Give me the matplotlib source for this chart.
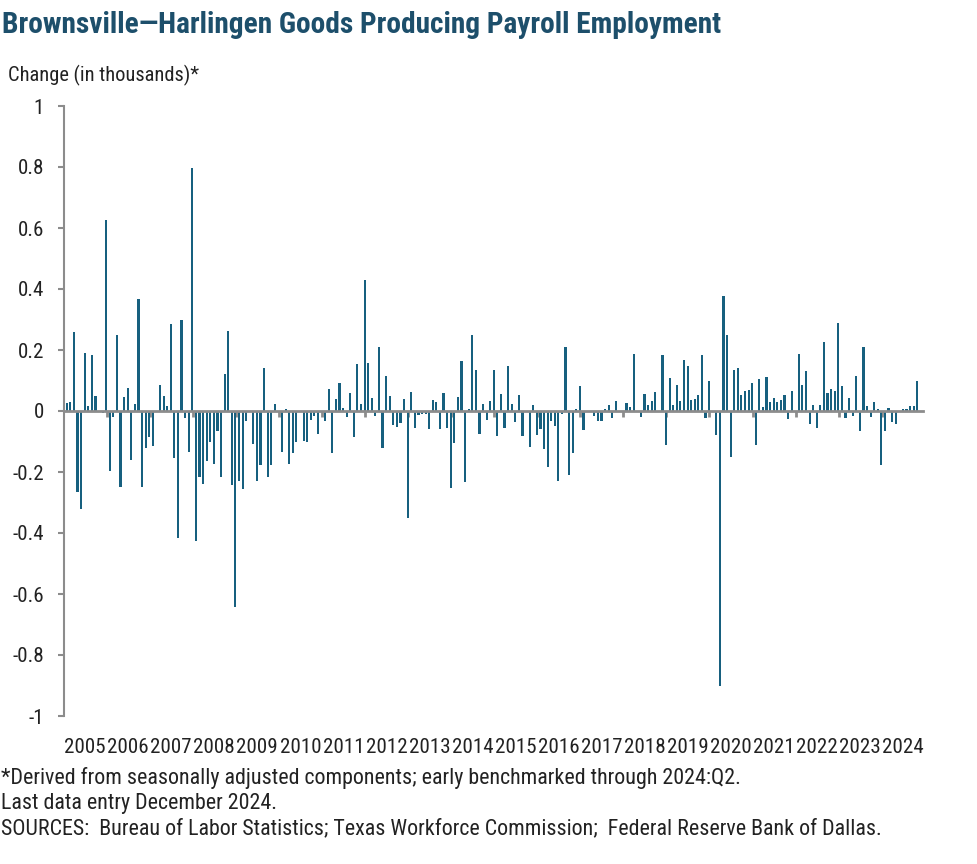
import matplotlib
matplotlib.use("Agg")
import matplotlib.pyplot as plt
from matplotlib import font_manager
import numpy as np

# monthly change in goods-producing payroll employment (thousands)
chg_2005_2009 = [
    0.027, 0.03, 0.258, -0.265, -0.32, 0.19, 0.018, 0.183, 0.05, 0.0, -0.005, 0.625,
    -0.196, -0.02, 0.248, -0.248, 0.045, 0.077, -0.16, 0.024, 0.367, -0.25, -0.12, -0.085,
    -0.116, 0.0, 0.086, 0.05, 0.015, 0.285, -0.155, -0.415, 0.30, -0.024, -0.133, 0.796,
    -0.425, -0.218, -0.24, -0.163, -0.103, -0.175, -0.065, -0.218, 0.12, 0.262, -0.244, -0.643,
    -0.229, -0.255, -0.034, 0.0, -0.107, -0.231, -0.176, 0.142, -0.215, -0.178, 0.024, 0.0,
]
chg_2010_2014 = [
    -0.133, 0.005, -0.173, -0.137, -0.103, 0.0, -0.097, -0.103, -0.03, -0.015, -0.077, 0.0,
    -0.032, 0.073, -0.137, 0.04, 0.093, 0.011, -0.019, 0.06, -0.084, 0.155, 0.024, 0.431,
    0.159, 0.044, -0.015, 0.211, -0.12, 0.116, 0.05, -0.046, -0.051, -0.038, 0.04, -0.35,
    0.063, -0.055, -0.012, -0.009, -0.009, -0.058, 0.037, 0.03, -0.058, 0.06, -0.055, -0.252,
    -0.104, 0.047, 0.165, -0.232, 0.008, 0.25, 0.136, -0.074, 0.024, -0.028, 0.034, 0.136,
]
chg_2015_2019 = [
    -0.081, 0.057, -0.055, 0.149, 0.024, -0.035, 0.054, -0.081, 0.0, -0.117, 0.021, -0.078,
    -0.06, -0.124, -0.183, -0.032, -0.048, -0.229, -0.01, 0.211, -0.209, -0.137, 0.008, 0.083,
    -0.061, 0.0, 0.0, -0.015, -0.032, -0.032, 0.006, 0.021, -0.022, 0.034, 0.0, 0.0,
    0.027, 0.014, 0.188, 0.0, -0.02, 0.057, 0.021, 0.034, 0.063, 0.0, 0.185, -0.11,
    0.109, 0.021, 0.086, 0.034, 0.168, 0.149, 0.037, 0.04, 0.054, 0.182, -0.022, 0.1,
]
chg_2020_2024 = [
    0.0, -0.078, -0.9, 0.378, 0.248, -0.152, 0.133, 0.14, 0.051, 0.064, 0.068, 0.091,
    -0.11, 0.104, 0.012, 0.113, 0.031, 0.042, 0.03, 0.035, 0.051, -0.026, 0.066, 0.0,
    0.186, 0.085, 0.131, -0.043, 0.019, -0.057, 0.019, 0.227, 0.059, 0.072, 0.067, 0.287,
    0.083, -0.022, 0.044, -0.015, 0.116, -0.065, 0.211, 0.016, -0.02, 0.029, 0.005, -0.178,
    -0.067, 0.01, -0.036, -0.042, 0.0, 0.007, 0.007, 0.016, 0.016, 0.099,
]
years = list(range(2005, 2025))
yticks = [1, 0.8, 0.6, 0.4, 0.2, 0, -0.2, -0.4, -0.6, -0.8, -1]

TITLE_TEXT = "Brownsville\u2014Harlingen Goods Producing Payroll Employment"
YLABEL = "Change (in thousands)*"
notes = [
    "*Derived from seasonally adjusted components; early benchmarked through 2024:Q2.",
    "Last data entry December 2024.",
    "SOURCES:  Bureau of Labor Statistics; Texas Workforce Commission;  Federal Reserve Bank of Dallas.",
]

BAR = "#17607f"
GREY = "#8c8c8c"
TITLE = "#1d4f6b"
INK = "#222222"


def _pick_narrow_font():
    # the original uses a condensed face; take one if the system has it
    wanted = ["Liberation Sans Narrow", "Roboto Condensed", "Open Sans Condensed",
              "DejaVu Sans Condensed", "Noto Sans", "DejaVu Sans", "Roboto", "Open Sans"]
    narrow = {}
    for f in font_manager.fontManager.ttflist:
        st = f.stretch
        cond = (isinstance(st, str) and "condensed" in st) or \
               (isinstance(st, (int, float)) and st < 500)
        if cond or "Narrow" in f.name or "Condensed" in f.name:
            narrow[f.name] = cond
    for name in wanted:
        if name in narrow:
            return name, narrow[name]
    return "Liberation Sans", False


family, stretched = _pick_narrow_font()
plt.rcParams["font.family"] = [family, "DejaVu Sans"]
if stretched:
    plt.rcParams["font.stretch"] = "condensed"

W, H = 977, 864
fig = plt.figure(figsize=(W / 100, H / 100), dpi=100)
renderer = fig.canvas.get_renderer()


def _size_for(text, width_px, weight="normal"):
    probe = fig.text(0, 0, text, fontsize=10, fontweight=weight)
    w = probe.get_window_extent(renderer).width
    probe.remove()
    return 10 * width_px / w


year_size = _size_for("2005", 41)
note_size = _size_for(notes[0], 735)
ylabel_size = _size_for(YLABEL, 190)
title_size = _size_for(TITLE_TEXT, 720, "bold")

ax = fig.add_axes([63.5 / W, (H - 716) / H, (923 - 63.5) / W, 610 / H])

values = chg_2005_2009 + chg_2010_2014 + chg_2015_2019 + chg_2020_2024
x = np.arange(len(values)) + 0.9
ax.bar(x, values, width=0.6, color=BAR, linewidth=0, zorder=2)

ax.set_xlim(0, 239.5)
ax.set_ylim(-1, 1)

# zero line with year boundary ticks
ax.spines["bottom"].set_position(("data", 0))
ax.spines["bottom"].set_color(GREY)
ax.spines["bottom"].set_linewidth(2)
ax.spines["bottom"].set_zorder(3)
ax.set_xticks([12 * k for k in range(1, len(years))])
ax.tick_params(axis="x", direction="out", length=4, width=2, color=GREY, labelbottom=False)

ax.spines["left"].set_color(GREY)
ax.spines["left"].set_linewidth(1.5)
ax.spines["top"].set_visible(False)
ax.spines["right"].set_visible(False)
ax.set_yticks(yticks)
ax.set_yticklabels([f"{v:g}" for v in yticks])
ax.tick_params(axis="y", direction="out", length=4, width=1.5, color=GREY, pad=10,
               labelsize=year_size, labelcolor=INK)

# year labels along the bottom
sec = ax.secondary_xaxis(0.0)
sec.set_xticks([12 * k + 6 for k in range(len(years))])
sec.set_xticklabels([str(y) for y in years])
sec.tick_params(length=0, pad=16, labelsize=year_size, labelcolor=INK)
sec.spines["bottom"].set_visible(False)

fig.text(2 / W, 1 - 25 / H, TITLE_TEXT, fontsize=title_size, fontweight="bold",
         color=TITLE, va="center", ha="left")
fig.text(8 / W, 1 - 75 / H, YLABEL, fontsize=ylabel_size, color=INK, va="center", ha="left")

for i, line in enumerate(notes):
    fig.text(1 / W, 1 - (778 + 25.5 * i) / H, line, fontsize=note_size, color=INK,
             va="center", ha="left")

fig.savefig("out.png", dpi=100)
